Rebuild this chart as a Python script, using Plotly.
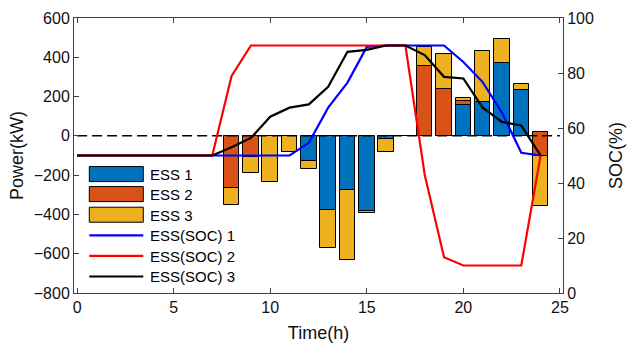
import plotly.graph_objects as go

# ---- data ----
bar_hours = list(range(8, 25))
ess1_power = [0, 0, 0, 0, -126, -375, -274, -380, -17, 0, 0, 0, 157, 174, 371, 235, 20]
ess2_power = [-264, -109, 0, 0, 0, 0, 0, 0, 0, 0, 358, 238, 20, 0, 0, 0, -123]
ess3_power = [-88, -82, -233, -83, -44, -196, -359, -12, -63, 0, 94, 181, 15, 259, 123, 29, -254]

soc_hours = list(range(0, 25))
soc1 = [50, 50, 50, 50, 50, 50, 50, 50, 50, 50, 50, 50, 54.6, 67.4, 76.5, 89.5, 90, 90, 90, 90, 84, 76.7, 65.6, 51, 50]
soc2 = [50, 50, 50, 50, 50, 50, 50, 50, 78.9, 90, 90, 90, 90, 90, 90, 90, 90, 90, 43, 13, 10, 10, 10, 10, 50]
soc3 = [50, 50, 50, 50, 50, 50, 50, 50, 53, 56.4, 64.1, 67.4, 68.6, 75, 87.7, 88.4, 90, 90, 86.5, 78.6, 78, 67.4, 62.2, 60.9, 50]

zero_x = [0, 25]
zero_y = [0, 0]

bar_names = ["ESS 1", "ESS 2", "ESS 3"]
line_names = ["ESS(SOC) 1", "ESS(SOC) 2", "ESS(SOC) 3"]
bar_colors = ["#0072BD", "#D95319", "#EDB120"]
line_colors = ["#0000FF", "#FF0000", "#000000"]

fig = go.Figure()

# cumulative stacking (classic MATLAB style)
series = [ess1_power, ess2_power, ess3_power]
base = [0] * len(bar_hours)
for name, vals, col in zip(bar_names, series, bar_colors):
    fig.add_trace(go.Bar(
        x=bar_hours, y=vals, base=list(base), name=name, width=0.8,
        marker=dict(color=col, line=dict(color="#000000", width=1)),
        showlegend=False, yaxis="y"))
    base = [b + v for b, v in zip(base, vals)]

fig.add_trace(go.Scatter(x=zero_x, y=zero_y, mode="lines",
                         line=dict(color="black", width=1.5, dash="10px,5px"),
                         showlegend=False, hoverinfo="skip", yaxis="y"))

for name, vals, col in zip(line_names, [soc1, soc2, soc3], line_colors):
    fig.add_trace(go.Scatter(x=soc_hours, y=vals, mode="lines", name=name,
                             line=dict(color=col, width=2.2),
                             showlegend=False, yaxis="y2"))

# ---- custom legend (MATLAB style) ----
L, R, T, B = 74, 563, 18.3, 293
def px(x):
    return (x - L) / (R - L)
def py(y):
    return (B - y) / (B - T)

shapes = []
annotations = []
rect_rows = [(166.7, 181.7), (186.7, 201.7), (207.3, 222.3)]
for (y0, y1), col, name in zip(rect_rows, bar_colors, bar_names):
    shapes.append(dict(type="rect", xref="paper", yref="paper",
                       x0=px(89.3), x1=px(143.3), y0=py(y1), y1=py(y0),
                       fillcolor=col, line=dict(color="black", width=1)))
    annotations.append(dict(xref="paper", yref="paper", x=px(148), y=py((y0 + y1) / 2 + 0.5),
                            text=name, showarrow=False, xanchor="left", yanchor="middle",
                            font=dict(size=15, color="#000000")))
line_rows = [235.5, 256, 276.5]
for yy, col, name in zip(line_rows, line_colors, line_names):
    shapes.append(dict(type="line", xref="paper", yref="paper",
                       x0=px(89.3), x1=px(143.3), y0=py(yy), y1=py(yy),
                       line=dict(color=col, width=2.2)))
    annotations.append(dict(xref="paper", yref="paper", x=px(148), y=py(yy + 0.5),
                            text=name, showarrow=False, xanchor="left", yanchor="middle",
                            font=dict(size=15, color="#000000")))

axis_col = "#404040"
font_fam = "Liberation Sans, Arial, sans-serif"

fig.update_layout(
    width=627, height=345,
    margin=dict(l=L, r=627 - R, t=T, b=345 - B),
    paper_bgcolor="white", plot_bgcolor="white",
    barmode="overlay", bargap=0,
    font=dict(family=font_fam, size=16, color="#111111"),
    shapes=shapes, annotations=annotations,
    xaxis=dict(range=[-0.16, 25.16], tickvals=[0, 5, 10, 15, 20, 25], automargin=False,
               showline=True, linecolor=axis_col, linewidth=1, mirror="ticks",
               ticks="inside", ticklen=5, tickcolor=axis_col, showgrid=False, zeroline=False,
               title=dict(text="Time(h)", font=dict(size=18), standoff=11),
               tickfont=dict(size=16)),
    yaxis=dict(range=[-800, 600], tickvals=list(range(-800, 601, 200)), automargin=False,
               showline=True, linecolor=axis_col, linewidth=1,
               ticks="inside", ticklen=5, tickcolor=axis_col, showgrid=False, zeroline=False,
               title=dict(text="Power(kW)", font=dict(size=18), standoff=5),
               tickfont=dict(size=16)),
    yaxis2=dict(range=[0, 100], tickvals=list(range(0, 101, 20)), overlaying="y", side="right",
                automargin=False,
                showline=True, linecolor=axis_col, linewidth=1,
                ticks="inside", ticklen=5, tickcolor=axis_col, showgrid=False, zeroline=False,
                title=dict(text="SOC(%)", font=dict(size=18), standoff=16),
                tickfont=dict(size=16)),
)

fig.write_html("out.html")
